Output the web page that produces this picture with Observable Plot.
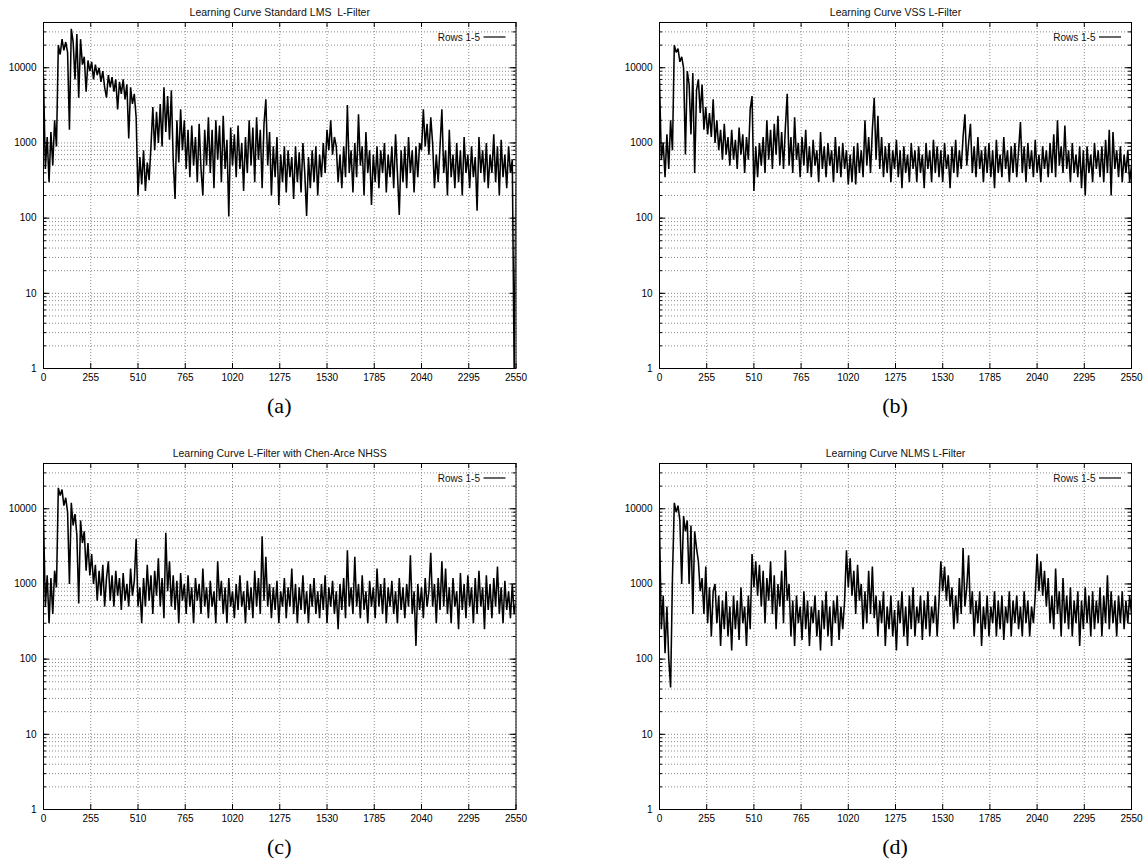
<!DOCTYPE html>
<html><head><meta charset="utf-8">
<script src="https://cdn.jsdelivr.net/npm/d3@7"></script>
<script src="https://cdn.jsdelivr.net/npm/@observablehq/plot@0.6"></script>
<style>
body{margin:0;background:#fff;width:1146px;height:865px;position:relative;overflow:hidden;font-family:"Liberation Sans",Arial,sans-serif}
.panel{position:absolute}
.cap{position:absolute;font-family:"Liberation Serif","Times New Roman",serif;font-size:22px;line-height:22px;transform:translate(-50%,-50%);color:#000}
</style></head><body>
<script>
// ---- axis ticks and labels ----
const xTicks = [0,255,510,765,1020,1275,1530,1785,2040,2295,2550];
const yMajor = [1,10,100,1000,10000];
const yGrid = [1,2,3,4,5,6,7,8,9,10,20,30,40,50,60,70,80,90,100,200,300,400,500,600,700,800,900,
               1000,2000,3000,4000,5000,6000,7000,8000,9000,10000,20000,30000,40000];
const titles = ["Learning Curve Standard LMS  L-Filter","Learning Curve VSS L-Filter",
                "Learning Curve L-Filter with Chen-Arce NHSS","Learning Curve NLMS L-Filter"];
const captions = ["(a)","(b)","(c)","(d)"];
const legendLabel = "Rows 1-5";
const sampleStep = 10; // iterations between stored samples

// ---- series (one value every 10 iterations, 0..2550) ----
const lmsValues = [
7500,450,1200,300,1400,500,2000,900,20000,15000,
24000,17000,22000,16000,1500,33000,22000,7000,28000,4000,
24000,11000,14000,4800,12500,9000,12000,7000,11000,8000,
10000,6500,9000,5500,4000,8000,5500,7500,4800,7000,
2800,6500,4500,7000,3800,6000,1150,5500,3300,4500,
2200,200,650,280,800,230,550,320,900,3000,
800,2600,1000,3300,900,5500,1400,4200,1100,5000,
600,180,2000,550,2800,800,2000,450,1500,350,
1700,500,1200,300,1800,450,200,1500,500,2200,
400,1500,250,2000,600,1700,300,2300,450,1100,
105,1600,500,1300,350,1700,450,1000,230,1200,
400,2000,500,1600,300,2200,600,1500,250,1800,
3800,500,1400,200,900,350,1200,150,700,300,
900,220,800,350,650,180,900,300,750,220,
1000,400,107,650,250,800,300,900,200,700,
350,1000,400,1500,800,2000,700,1200,900,300,
700,250,900,350,3200,400,800,220,1000,350,
2400,500,900,200,1400,400,800,150,700,300,
900,250,800,400,1000,220,700,350,900,250,
1300,400,110,800,300,900,250,1200,400,800,
220,900,350,1000,800,2800,900,1800,700,2200,
1000,250,700,300,900,2800,400,800,200,1500,
350,700,250,1000,300,800,200,1200,400,700,
250,900,350,650,125,1200,400,800,300,1000,
250,700,400,1300,300,900,200,1100,350,700,
250,900,400,600,1,300];

const vssValues = [
7000,600,1000,350,1300,450,2000,800,20000,16000,
18000,12000,14000,10000,700,9000,6000,1300,8500,400,
5000,7000,2500,6000,1500,3000,1300,2500,1200,3800,
1000,2000,800,1500,600,1800,700,1200,500,1500,
600,1100,450,1600,700,1300,400,1200,600,2800,
4200,230,900,350,1000,500,1200,400,2000,600,
1500,450,1800,700,2300,500,1400,450,1600,4500,
500,1200,400,2200,600,1000,350,1200,500,1500,
400,900,350,1100,500,800,300,1400,450,900,
350,1000,500,800,300,1200,400,900,350,1000,
450,800,280,700,300,900,280,1000,400,800,
350,2000,500,1200,400,1500,4000,600,2300,450,
1200,350,900,400,1000,300,800,450,1100,350,
800,250,900,400,700,300,1000,450,800,300,
900,400,700,250,1000,450,800,300,1100,400,
900,350,800,300,1000,450,700,250,900,400,
1100,350,800,450,1200,2400,500,1000,1800,400,
900,350,1200,450,800,300,900,400,1000,350,
800,250,1100,400,700,350,1200,450,800,300,
900,400,1000,350,800,1900,400,900,300,1000,
450,800,350,1100,400,700,300,900,450,800,
350,1000,400,1300,350,2000,500,900,400,1700,
450,800,300,1000,400,700,350,900,250,800,
200,900,400,700,300,1000,450,800,350,900,
300,1100,400,1500,200,1400,450,800,350,900,
300,700,400,800,300,500];

const chenValues = [
7500,500,1300,300,1200,400,1500,900,19000,15000,
18000,11000,14000,9000,1000,12000,6000,8500,4500,550,
7000,3500,5000,1500,3500,1300,2500,1000,1800,600,
1500,700,1800,500,1200,2000,600,1300,500,1500,
700,1200,450,1400,600,1000,500,1600,700,1100,
4000,500,900,300,1200,500,1800,600,1300,400,
1500,700,2200,500,1200,350,4800,800,2000,500,
1300,450,1100,300,1400,600,1000,400,1300,500,
900,300,1200,600,1000,400,1600,500,900,350,
1100,500,800,300,2000,600,1100,400,900,300,
1200,500,800,350,1000,450,1300,500,800,300,
1100,450,900,350,1500,500,1200,400,4300,600,
2300,500,1000,350,900,450,1100,300,800,500,
1200,350,900,500,1600,400,1000,300,900,450,
1300,400,800,300,1000,500,1200,400,800,350,
1000,450,1300,300,900,500,1100,400,800,250,
1000,450,1200,350,2800,500,900,400,2300,500,
1000,350,1300,450,800,300,1100,500,900,350,
1600,500,1000,400,1200,300,900,500,1100,400,
800,300,1200,450,900,350,1000,500,2400,400,
800,150,1000,450,900,350,1200,500,800,2600,
500,1000,300,1200,450,2000,500,1600,400,900,
300,1200,500,800,250,1400,450,1000,350,1300,
500,900,300,1200,400,1500,500,900,250,1300,
450,1000,350,1200,500,1700,400,900,300,1100,
450,800,350,1000,400,600];

const nlmsValues = [
6000,250,700,120,500,100,42,1200,12000,9000,
11000,7000,1000,8000,5000,7000,1000,6000,400,5000,
3000,2000,800,1200,400,1700,300,900,200,800,
1000,300,700,150,600,250,800,200,500,130,
700,250,600,180,900,300,500,150,700,250,
2500,900,2000,700,1800,500,1500,300,1200,600,
2000,400,1300,250,1000,500,1500,300,2800,600,
1000,200,600,150,700,300,500,180,800,250,
600,150,500,300,700,200,450,130,600,250,
800,200,500,150,600,300,700,180,500,250,
600,2800,900,2200,700,1500,400,1800,600,1000,
250,800,300,1500,400,1700,350,700,200,600,
300,800,150,500,250,700,200,450,130,600,
300,800,200,500,150,700,250,900,200,500,
300,700,180,600,250,800,200,500,300,700,
200,600,2000,800,1700,600,1300,500,900,250,
700,300,1200,400,3000,500,900,2400,400,800,
200,600,300,800,150,500,250,700,200,500,
300,800,200,600,250,700,180,500,300,800,
200,600,300,700,250,500,200,800,300,600,
200,500,300,700,2500,800,2000,700,1500,500,
1200,300,700,250,1600,400,800,200,1200,300,
700,250,900,200,600,300,800,150,600,250,
900,300,700,200,800,250,600,300,900,200,
700,300,1300,250,800,300,600,200,700,300,
800,250,600,300,700,400];

const seriesList = [lmsValues, vssValues, chenValues, nlmsValues];

// ---- layout ----
const W = 573, H = 388, MT = 22, MB = 20;
const layouts = [
  {left: 0,   top: 0,   ml: 43, mr: 57.5},
  {left: 573, top: 0,   ml: 86, mr: 15},
  {left: 0,   top: 441, ml: 43, mr: 57.5},
  {left: 573, top: 441, ml: 86, mr: 15}
];
const FONT = '"Liberation Sans", Arial, Helvetica, sans-serif';

function legendSwatch(index, scales, values, dims) {
  const x2 = dims.width - dims.marginRight - 10;
  const y = dims.marginTop + 15;
  const el = document.createElementNS("http://www.w3.org/2000/svg", "line");
  el.setAttribute("x1", x2 - 22); el.setAttribute("x2", x2);
  el.setAttribute("y1", y); el.setAttribute("y2", y);
  el.setAttribute("stroke", "#000"); el.setAttribute("stroke-width", 1.2);
  return el;
}

function makePanel(values, title, lay) {
  const data = values.map((v, i) => ({x: i * sampleStep, y: v}));
  const pw = W - lay.ml - lay.mr, ph = H - MT - MB;
  return Plot.plot({
    width: W, height: H,
    marginLeft: lay.ml, marginRight: lay.mr, marginTop: MT, marginBottom: MB,
    style: {fontFamily: FONT, fontSize: "10px", color: "#000", background: "#fff", overflow: "visible"},
    x: {domain: [0, 2550], ticks: xTicks, tickFormat: d => String(d), tickSize: 0, tickPadding: 5, label: null},
    y: {type: "log", domain: [1, 40000], ticks: yMajor, tickFormat: d => String(d), tickSize: 0, tickPadding: 7, label: null},
    marks: [
      Plot.ruleY(yGrid, {stroke: "#8a8a8a", strokeDasharray: "1,2", strokeWidth: 1}),
      Plot.ruleX(xTicks, {stroke: "#8a8a8a", strokeDasharray: "1,2", strokeWidth: 1}),
      Plot.ruleY(yGrid, {insetRight: pw - 3, stroke: "#000"}),
      Plot.ruleY(yGrid, {insetLeft: pw - 3, stroke: "#000"}),
      Plot.ruleY(yMajor, {insetRight: pw - 6, stroke: "#000"}),
      Plot.ruleY(yMajor, {insetLeft: pw - 6, stroke: "#000"}),
      Plot.ruleX(xTicks, {insetTop: ph - 5, stroke: "#000"}),
      Plot.ruleX(xTicks, {insetBottom: ph - 5, stroke: "#000"}),
      Plot.line(data, {x: "x", y: "y", stroke: "#000", strokeWidth: 1.55, strokeLinejoin: "miter", strokeMiterlimit: 2, clip: true}),
      Plot.frame({stroke: "#000", strokeWidth: 1}),
      Plot.text([title], {frameAnchor: "top", lineAnchor: "middle", dy: -10, fontSize: 10.5, fill: "#111", style: "white-space:pre"}),
      Plot.text([legendLabel], {frameAnchor: "top-right", lineAnchor: "middle", dx: -36, dy: 15, textAnchor: "end", fontSize: 10, fill: "#111"}),
      legendSwatch
    ]
  });
}

seriesList.forEach((vals, k) => {
  const lay = layouts[k];
  const div = document.createElement("div");
  div.className = "panel";
  div.style.left = lay.left + "px";
  div.style.top = lay.top + "px";
  const svg = makePanel(vals, titles[k], lay);
  svg.querySelectorAll("text").forEach(t => t.setAttribute("xml:space", "preserve"));
  div.appendChild(svg);
  document.body.appendChild(div);
  const cap = document.createElement("div");
  cap.className = "cap";
  const frameCenter = lay.left + lay.ml + (W - lay.ml - lay.mr) / 2;
  cap.style.left = frameCenter + "px";
  cap.style.top = (lay.top + 406) + "px";
  cap.textContent = captions[k];
  document.body.appendChild(cap);
});
</script>
</body></html>
